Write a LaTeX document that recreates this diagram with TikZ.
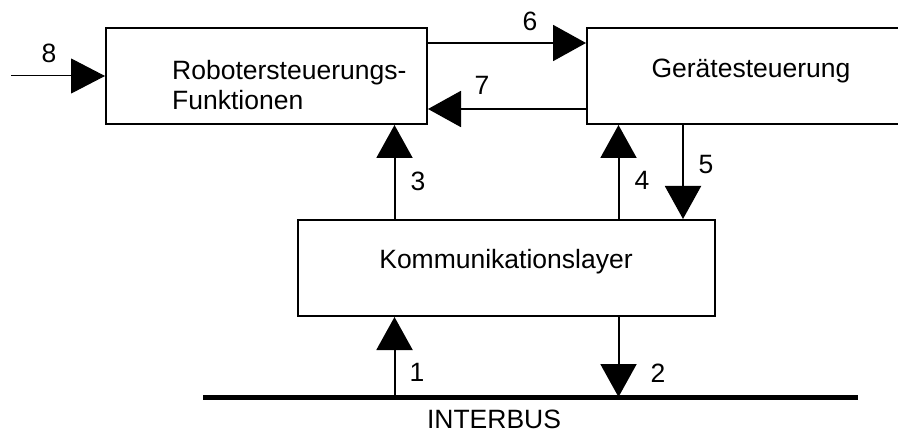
\documentclass[tikz,border=0pt]{standalone}
\usepackage{fontspec}
\setmainfont{Liberation Sans}
\usetikzlibrary{arrows.meta,calc}
\begin{document}
\begin{tikzpicture}[x=1pt,y=-1pt,
  box/.style={draw,line width=2pt,inner sep=0pt,rectangle},
  conn/.style={line width=2pt,-{Triangle[width=36pt,length=33pt]}},
  thinconn/.style={line width=1pt,-{Triangle[width=35pt,length=34pt]}},
  lbl/.style={inner sep=0pt,font=\fontsize{26.5}{30}\selectfont},
  txt/.style={inner sep=0pt,font=\fontsize{26.5}{31}\selectfont}]
\useasboundingbox (0,0) rectangle (898,433);
\clip (0,0) rectangle (898,433);
% boxes
\node[box,minimum width=321pt,minimum height=96pt] (box1) at (266.5,76) {};
\node[box,minimum width=323pt,minimum height=96pt] (box2) at (748.5,76) {};
\node[box,minimum width=417pt,minimum height=96pt] (box3) at (506.5,268) {};
% texts
\node[txt,anchor=base west] (t1a) at (172,79.5) {Robotersteuerungs-};
\node[txt,anchor=base west] (t1b) at (172,110) {Funktionen};
\node[txt,anchor=base] (t2) at (751,77.5) {Gerätesteuerung};
\node[txt,anchor=base] (t3) at (506,269) {Kommunikationslayer};
\node[txt,anchor=base] (t4) at (494,428) {INTERBUS};
% bus
\coordinate (busL) at (203,397);
\coordinate (busR) at (858,397);
\draw[line width=5pt] (busL) -- (busR);
% x positions
\coordinate (xa) at (394.5,0);
\coordinate (xb) at (618.5,0);
\coordinate (xc) at (683,0);
\coordinate (in8) at (11,76);
% connectors
\draw[thinconn] (in8) -- (box1.west);
\draw[conn] ([yshift=-16pt]box1.north east) -- ([yshift=-16pt]box2.north west);
\draw[conn] ([yshift=16pt]box2.south west) -- ([yshift=16pt]box1.south east);
\draw[conn] (box3.north -| xa) -- (box1.south -| xa);
\draw[conn] (box3.north -| xb) -- (box2.south -| xb);
\draw[conn] (box2.south -| xc) -- (box3.north -| xc);
\draw[conn] (busL -| xa) -- (box3.south -| xa);
\draw[conn] (box3.south -| xb) -- (busL -| xb);
% labels
\node[lbl] (l8) at (49,53) {8};
\node[lbl] (l6) at (530,21) {6};
\node[lbl] (l7) at (482,85) {7};
\node[lbl] (l3) at (418,181) {3};
\node[lbl] (l4) at (642,180) {4};
\node[lbl] (l5) at (706,165) {5};
\node[lbl] (l1) at (417,372) {1};
\node[lbl] (l2) at (658,373) {2};
\end{tikzpicture}
\end{document}
